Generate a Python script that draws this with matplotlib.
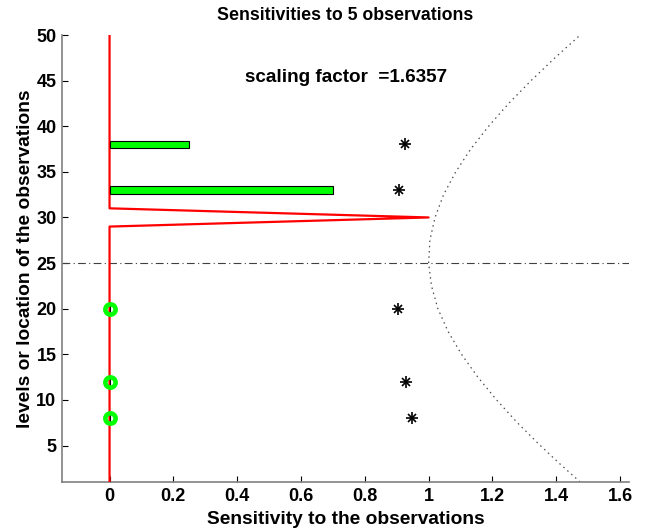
import matplotlib
matplotlib.use("Agg")
import matplotlib.pyplot as plt

plt.rcParams['font.family'] = ['Liberation Sans', 'DejaVu Sans']
plt.rcParams['font.weight'] = 'bold'

# sensitivity profile along the levels
profile_levels = [1, 29, 30, 31, 50]
profile_values = [0.0, 0.0, 1.0, 0.0, 0.0]

# observations
obs_levels = [38, 33, 20, 12, 8]
obs_sens = [0.25, 0.70, 0.0, 0.0, 0.0]
obs_star = [0.925, 0.908, 0.903, 0.929, 0.949]

# dotted envelope curve
curve_levels = [1, 3, 5, 7.5, 10, 12.5, 15, 17.5, 20, 22.5, 25, 27.5,
                30, 32.5, 35, 37.5, 40, 42.5, 45, 47.5, 50]
curve_x = [1.475, 1.411, 1.350, 1.278, 1.213, 1.154, 1.103, 1.061, 1.029,
           1.009, 1.000, 1.004, 1.020, 1.047, 1.085, 1.132, 1.188, 1.251,
           1.321, 1.396, 1.475]

ref_level = 25
scaling_factor = 1.6357

xticks = [0, 0.2, 0.4, 0.6, 0.8, 1.0, 1.2, 1.4, 1.6]
xticklabels = ['0', '0.2', '0.4', '0.6', '0.8', '1', '1.2', '1.4', '1.6']
yticks = [5, 10, 15, 20, 25, 30, 35, 40, 45, 50]

fig = plt.figure(figsize=(6.61, 5.31), dpi=100)
ax = fig.add_axes([62/661, 49/531, 567/661, 447/531])

ax.plot(profile_values, profile_levels, color=(1, 0, 0), lw=1.6, zorder=3)

ax.barh(obs_levels, obs_sens, height=0.8, color=(0, 1, 0),
        edgecolor='black', linewidth=0.8, zorder=4)

zero_lv = [l for l, s in zip(obs_levels, obs_sens) if s == 0]
zero_s = [s for s in obs_sens if s == 0]
ax.plot(zero_s, zero_lv, linestyle='none', marker='o', markersize=7.4,
        markerfacecolor='none', markeredgecolor=(0, 1, 0),
        markeredgewidth=3.3, zorder=5)

ax.plot(obs_star, obs_levels, linestyle='none', marker='+', markersize=8,
        markeredgewidth=1.2, color='black', zorder=5)
ax.plot(obs_star, obs_levels, linestyle='none', marker='x', markersize=6,
        markeredgewidth=1.2, color='black', zorder=5)

ax.axhline(ref_level, color='0.25', lw=0.8, linestyle=(0, (7, 3, 1, 3)),
           zorder=2)

ax.plot(curve_x, curve_levels, color='0.3', lw=0.9,
        linestyle=(0, (1.2, 3.0)), zorder=2)

ax.text(0.425, 45.3, 'scaling factor  =%.4f' % scaling_factor,
        fontsize=13.6, fontweight='bold', va='center', ha='left')

ax.set_xlim(-0.149, 1.628)
ax.set_ylim(1, 50)
ax.set_xticks(xticks)
ax.set_xticklabels(xticklabels)
ax.set_yticks(yticks)

for s in ['top', 'right']:
    ax.spines[s].set_visible(False)
for s in ['left', 'bottom']:
    ax.spines[s].set_color('0.5')
    ax.spines[s].set_linewidth(1.2)

ax.tick_params(direction='in', length=4, width=0.8, colors='black',
               labelsize=13, pad=4)
for lab in ax.get_xticklabels() + ax.get_yticklabels():
    lab.set_fontweight('bold')

ax.set_title('Sensitivities to 5 observations', fontsize=12.8,
             fontweight='bold', pad=11)
ax.set_xlabel('Sensitivity to the observations', fontsize=13.8,
              fontweight='bold', labelpad=5)
ax.set_ylabel('levels or location of the observations', fontsize=13.8,
              fontweight='bold', labelpad=2)

fig.savefig('out.png', dpi=100)
